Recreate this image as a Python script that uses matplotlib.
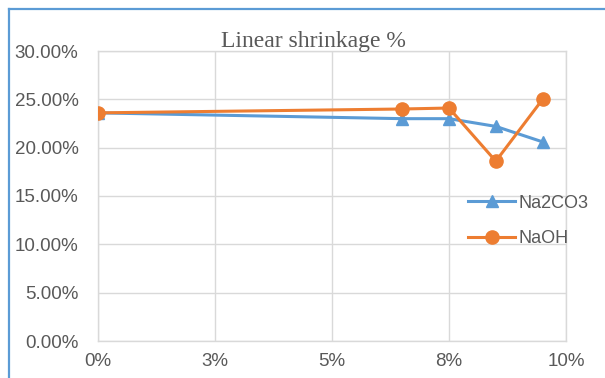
import matplotlib
matplotlib.use("Agg")
import matplotlib.pyplot as plt
from matplotlib.lines import Line2D
from matplotlib.ticker import PercentFormatter, FixedLocator, FixedFormatter

# concentration of the alkali (fraction) and measured linear shrinkage (%)
concentration = [0.0, 0.065, 0.075, 0.085, 0.095]
shrink_na2co3 = [23.6, 23.0, 23.0, 22.2, 20.6]
shrink_naoh = [23.6, 24.0, 24.1, 18.6, 25.0]

x_ticks = [0.0, 0.025, 0.05, 0.075, 0.10]
x_tick_labels = ["0%", "3%", "5%", "8%", "10%"]
y_ticks = [0, 5, 10, 15, 20, 25, 30]

BLUE = "#5B9BD5"
ORANGE = "#ED7D31"
GRID = "#D9D9D9"
TEXT = "#595959"

plt.rcParams["font.family"] = ["Liberation Sans", "DejaVu Sans"]

fig = plt.figure(figsize=(6.05, 3.78), dpi=100)
ax = fig.add_axes([98 / 605, 1 - 341 / 378, (566 - 98) / 605, (341 - 51) / 378])

ax.plot(concentration, shrink_na2co3, color=BLUE, lw=2.2, marker="^",
        markersize=9, label="Na2CO3", zorder=3)
ax.plot(concentration, shrink_naoh, color=ORANGE, lw=2.2, marker="o",
        markersize=9.5, label="NaOH", zorder=4)

ax.set_xlim(0, 0.10)
ax.set_ylim(0, 30)
ax.xaxis.set_major_locator(FixedLocator(x_ticks))
ax.xaxis.set_major_formatter(FixedFormatter(x_tick_labels))
ax.yaxis.set_major_locator(FixedLocator(y_ticks))
ax.yaxis.set_major_formatter(PercentFormatter(100, decimals=2))

ax.grid(True, color=GRID, lw=1)
ax.set_axisbelow(True)
for s in ax.spines.values():
    s.set_color(GRID)
    s.set_linewidth(1)
ax.tick_params(length=0, labelsize=13.5, colors=TEXT)
ax.tick_params(axis="y", pad=14)
ax.tick_params(axis="x", pad=9)

fig.text(313 / 605, 1 - 41 / 378, "Linear shrinkage %", family="Liberation Serif",
         fontsize=17, color=TEXT, ha="center", va="center")

handles = [
    Line2D([], [], color=BLUE, lw=2.2, marker="^", markersize=9),
    Line2D([], [], color=ORANGE, lw=2.2, marker="o", markersize=9.5),
]
fig.legend(handles, ["Na2CO3", "NaOH"], loc="center left",
           bbox_to_anchor=(452 / 605, 1 - 221 / 378), frameon=False,
           fontsize=13, labelcolor=TEXT, handlelength=2.6, handletextpad=0.2,
           labelspacing=1.05)

# chart-area border (left and top edges)
fig.add_artist(Line2D([9 / 605, 9 / 605], [0, 1 - 9 / 378], color=BLUE, lw=1.6,
                      transform=fig.transFigure))
fig.add_artist(Line2D([9 / 605, 1], [1 - 9 / 378, 1 - 9 / 378], color=BLUE, lw=1.6,
                      transform=fig.transFigure))

fig.savefig("out.png", dpi=100)
